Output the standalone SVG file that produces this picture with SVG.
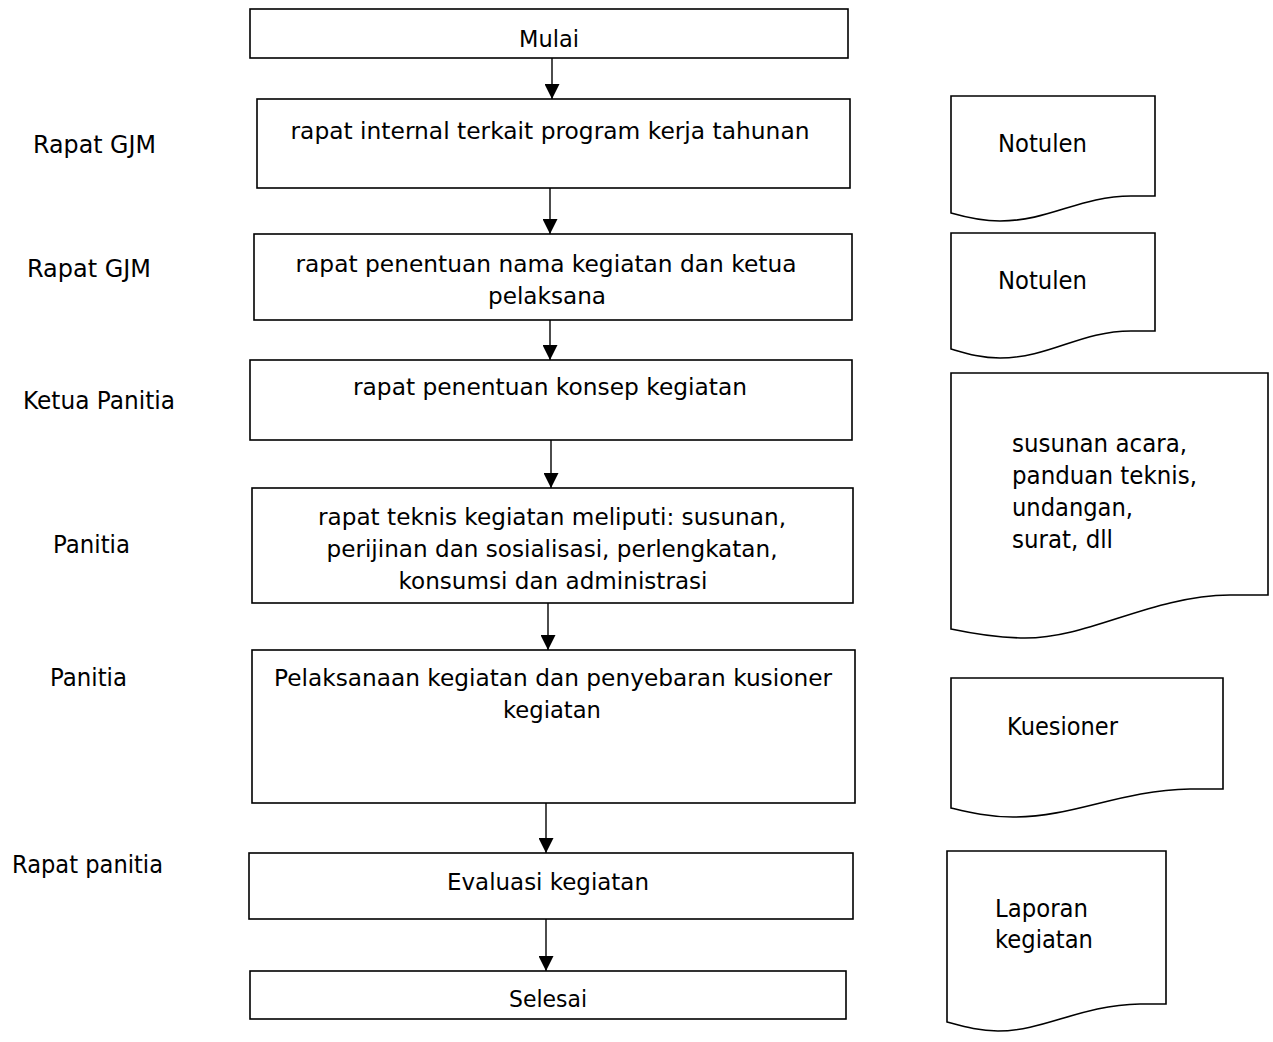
<svg xmlns="http://www.w3.org/2000/svg" width="1273" height="1042" viewBox="0 0 1273 1042">
<style>
.box{fill:#fff;stroke:#000;stroke-width:1.6}
.doc{fill:#fff;stroke:#000;stroke-width:1.6;stroke-linejoin:miter}
.mt{font-family:"DejaVu Sans",sans-serif;font-size:23px;fill:#000;text-anchor:middle}
.st{font-family:"DejaVu Sans",sans-serif;font-size:25px;fill:#000}
.conn{stroke:#000;stroke-width:1.4;fill:none}
</style>
<defs>
<marker id="arr" viewBox="0 0 15 15" refX="15" refY="7.5" markerWidth="15" markerHeight="15" markerUnits="userSpaceOnUse" orient="auto">
<path d="M0,0 L15,7.5 L0,15 Z" fill="#000"/>
</marker>
</defs>
<rect width="1273" height="1042" fill="#fff"/>

<g id="connectors">
<line class="conn" x1="552" y1="58" x2="552" y2="99" marker-end="url(#arr)"/>
<line class="conn" x1="550" y1="188" x2="550" y2="234" marker-end="url(#arr)"/>
<line class="conn" x1="550" y1="320" x2="550" y2="360" marker-end="url(#arr)"/>
<line class="conn" x1="551" y1="440" x2="551" y2="488" marker-end="url(#arr)"/>
<line class="conn" x1="548" y1="603" x2="548" y2="650" marker-end="url(#arr)"/>
<line class="conn" x1="546" y1="803" x2="546" y2="853" marker-end="url(#arr)"/>
<line class="conn" x1="546" y1="919" x2="546" y2="971" marker-end="url(#arr)"/>
</g>

<g id="n-mulai">
<rect class="box" x="250" y="9" width="598" height="49"/>
<text class="mt" x="549" y="47" textLength="60" lengthAdjust="spacingAndGlyphs">Mulai</text>
</g>
<g id="n-rapat-internal">
<rect class="box" x="257" y="99" width="593" height="89"/>
<text class="mt" x="550" y="139" textLength="519" lengthAdjust="spacingAndGlyphs">rapat internal terkait program kerja tahunan</text>
</g>
<g id="n-penentuan-nama">
<rect class="box" x="254" y="234" width="598" height="86"/>
<text class="mt" x="546" y="272" textLength="501" lengthAdjust="spacingAndGlyphs">rapat penentuan nama kegiatan dan ketua</text>
<text class="mt" x="547" y="304" textLength="118" lengthAdjust="spacingAndGlyphs">pelaksana</text>
</g>
<g id="n-konsep">
<rect class="box" x="250" y="360" width="602" height="80"/>
<text class="mt" x="550" y="395" textLength="394" lengthAdjust="spacingAndGlyphs">rapat penentuan konsep kegiatan</text>
</g>
<g id="n-teknis">
<rect class="box" x="252" y="488" width="601" height="115"/>
<text class="mt" x="552" y="525" textLength="468" lengthAdjust="spacingAndGlyphs">rapat teknis kegiatan meliputi: susunan,</text>
<text class="mt" x="552" y="557" textLength="451" lengthAdjust="spacingAndGlyphs">perijinan dan sosialisasi, perlengkatan,</text>
<text class="mt" x="553" y="589" textLength="309" lengthAdjust="spacingAndGlyphs">konsumsi dan administrasi</text>
</g>
<g id="n-pelaksanaan">
<rect class="box" x="252" y="650" width="603" height="153"/>
<text class="mt" x="553" y="686" textLength="558" lengthAdjust="spacingAndGlyphs">Pelaksanaan kegiatan dan penyebaran kusioner</text>
<text class="mt" x="552" y="718" textLength="98" lengthAdjust="spacingAndGlyphs">kegiatan</text>
</g>
<g id="n-evaluasi">
<rect class="box" x="249" y="853" width="604" height="66"/>
<text class="mt" x="548" y="890" textLength="202" lengthAdjust="spacingAndGlyphs">Evaluasi kegiatan</text>
</g>
<g id="n-selesai">
<rect class="box" x="250" y="971" width="596" height="48"/>
<text class="mt" x="548" y="1007" textLength="78" lengthAdjust="spacingAndGlyphs">Selesai</text>
</g>

<g id="labels">
<text class="st" x="33" y="153" textLength="123" lengthAdjust="spacingAndGlyphs">Rapat GJM</text>
<text class="st" x="27" y="277" textLength="124" lengthAdjust="spacingAndGlyphs">Rapat GJM</text>
<text class="st" x="23" y="409" textLength="152" lengthAdjust="spacingAndGlyphs">Ketua Panitia</text>
<text class="st" x="53" y="553" textLength="77" lengthAdjust="spacingAndGlyphs">Panitia</text>
<text class="st" x="50" y="686" textLength="77" lengthAdjust="spacingAndGlyphs">Panitia</text>
<text class="st" x="12" y="873" textLength="151" lengthAdjust="spacingAndGlyphs">Rapat panitia</text>
</g>

<g id="d-notulen-1">
<path class="doc" d="M951,96 H1155 V196 H1131 C1080,196 1050,221 1000,221 C980,221 965,217 951,213 Z"/>
<text class="st" x="998" y="152" textLength="89" lengthAdjust="spacingAndGlyphs">Notulen</text>
</g>
<g id="d-notulen-2">
<path class="doc" d="M951,233 H1155 V331 H1131 C1080,331 1050,358 1000,358 C980,358 965,353 951,349 Z"/>
<text class="st" x="998" y="289" textLength="89" lengthAdjust="spacingAndGlyphs">Notulen</text>
</g>
<g id="d-susunan">
<path class="doc" d="M951,373 H1268 V595 H1230 C1150,596 1090,638 1025,638 C995,638 970,633 951,629 Z"/>
<text class="st" x="1012" y="452" textLength="175" lengthAdjust="spacingAndGlyphs">susunan acara,</text>
<text class="st" x="1012" y="484" textLength="185" lengthAdjust="spacingAndGlyphs">panduan teknis,</text>
<text class="st" x="1012" y="516" textLength="121" lengthAdjust="spacingAndGlyphs">undangan,</text>
<text class="st" x="1012" y="548" textLength="101" lengthAdjust="spacingAndGlyphs">surat, dll</text>
</g>
<g id="d-kuesioner">
<path class="doc" d="M951,678 H1223 V789 H1190 C1120,790 1075,817 1013,817 C988,817 968,812 951,808 Z"/>
<text class="st" x="1007" y="735" textLength="111" lengthAdjust="spacingAndGlyphs">Kuesioner</text>
</g>
<g id="d-laporan">
<path class="doc" d="M947,851 H1166 V1004 H1140 C1080,1005 1045,1031 998,1031 C978,1031 962,1026 947,1022 Z"/>
<text class="st" x="995" y="917" textLength="93" lengthAdjust="spacingAndGlyphs">Laporan</text>
<text class="st" x="995" y="948" textLength="98" lengthAdjust="spacingAndGlyphs">kegiatan</text>
</g>
</svg>
